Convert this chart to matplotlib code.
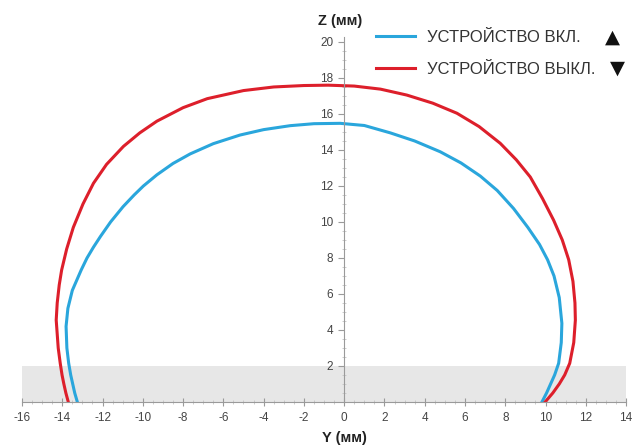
import matplotlib
matplotlib.use("Agg")
import matplotlib.pyplot as plt
from matplotlib.ticker import MultipleLocator

plt.rcParams['font.family'] = ['Liberation Sans', 'DejaVu Sans']

# Curve "device on" (blue): Y (mm), Z (mm)
on_y = [-13.25, -13.38, -13.48, -13.58, -13.68, -13.77, -13.81, -13.72, -13.5,
        -13.06, -12.77, -12.45, -12.1, -11.6, -10.98, -10.43, -9.97, -9.3,
        -8.5, -7.65, -6.5, -5.17, -4.0, -2.68, -1.5, -0.2,
        1.0, 2.29, 3.5, 4.77, 5.8, 6.76, 7.6, 8.41,
        9.12, 9.7, 10.1, 10.42, 10.68, 10.81, 10.78, 10.65, 10.45, 10.25, 10.05, 9.82]
on_z = [0.0, 0.5, 1.0, 1.5, 2.15, 3.0, 4.2, 5.2, 6.2,
        7.33, 8.0, 8.6, 9.2, 10.0, 10.85, 11.5, 12.0, 12.62,
        13.25, 13.78, 14.35, 14.83, 15.13, 15.35, 15.46, 15.48,
        15.36, 14.95, 14.5, 13.9, 13.28, 12.55, 11.75, 10.75,
        9.7, 8.75, 7.9, 7.0, 5.8, 4.37, 3.3, 2.15, 1.5, 1.0, 0.5, 0.0]

# Curve "device off" (red)
off_y = [-13.7, -13.82, -13.92, -14.01, -14.1, -14.2, -14.3, -14.25, -14.15,
         -14.03, -13.78, -13.45, -12.97, -12.45, -11.8, -10.96, -10.15, -9.3,
         -8.0, -6.8, -5.0, -3.5, -2.0, -0.8, 0.5, 1.8, 3.11, 4.4, 5.6, 6.7,
         7.75, 8.55, 9.24, 9.85, 10.4, 10.83, 11.15, 11.36, 11.46, 11.48,
         11.4, 11.2, 10.95, 10.68, 10.36, 9.98]
off_z = [0.0, 0.5, 1.0, 1.5, 2.15, 3.0, 4.55, 5.5, 6.5,
         7.33, 8.5, 9.7, 11.0, 12.15, 13.2, 14.2, 14.95, 15.6,
         16.35, 16.85, 17.3, 17.5, 17.58, 17.6, 17.55, 17.38, 17.05, 16.6, 16.04, 15.3,
         14.37, 13.45, 12.5, 11.3, 10.1, 9.0, 7.9, 6.7, 5.5, 4.55,
         3.3, 2.15, 1.5, 1.0, 0.5, 0.0]

labels = ["УСТРОЙСТВО ВКЛ.", "УСТРОЙСТВО ВЫКЛ."]
markers = ["▲", "▼"]
colors = ["#2aa6dc", "#dd1f2b"]

x_ticks = list(range(-16, 15, 2))
y_ticks = list(range(2, 21, 2))

fig = plt.figure(figsize=(6.35, 4.47), dpi=100)
ax = fig.add_axes([0.0346, 0.1007, 0.9514, 0.8175])
ax.set_xlim(-16, 14)
ax.set_ylim(0, 20.3)

ax.axhspan(0, 2, color="#e7e7e7", zorder=0, lw=0)

ax.plot(on_y, on_z, color=colors[0], lw=2.2, label=labels[0], solid_joinstyle='round')
ax.plot(off_y, off_z, color=colors[1], lw=2.2, label=labels[1], solid_joinstyle='round')

for s in ['top', 'right']:
    ax.spines[s].set_visible(False)
ax.spines['left'].set_position(('data', 0))
ax.spines['bottom'].set_position(('data', 0))
for s in ['left', 'bottom']:
    ax.spines[s].set_color('#9a9a9a')
    ax.spines[s].set_linewidth(0.8)

ax.set_xticks(x_ticks)
ax.set_xticklabels([str(t) for t in x_ticks])
ax.set_yticks(y_ticks)
ax.set_yticklabels([str(t) for t in y_ticks])
ax.xaxis.set_minor_locator(MultipleLocator(0.5))
ax.yaxis.set_minor_locator(MultipleLocator(0.5))
ax.tick_params(axis='both', which='major', direction='inout', length=6, width=0.8,
               color='#9a9a9a', labelsize=8.5, labelcolor='#444444', pad=4)
ax.tick_params(axis='both', which='minor', direction='inout', length=3, width=0.6,
               color='#c4c4c4')
ax.tick_params(axis='y', which='major', direction='out', length=4)

ax.text(-0.2, 20.8, "Z (мм)", ha='center', va='bottom', fontsize=10.5,
        fontweight='bold', color='#222222', clip_on=False)
fig.text(344 / 635, 1 - 438 / 447, "Y (мм)", ha='center', va='center', fontsize=10.5,
         fontweight='bold', color='#222222')

leg = ax.legend(loc='upper left', bbox_to_anchor=(376 / 635, 1 - 30 / 447),
                bbox_transform=fig.transFigure, frameon=False, fontsize=12,
                handlelength=2.35, handletextpad=0.7, labelspacing=1.0,
                borderpad=0, borderaxespad=0)
for t in leg.get_texts():
    t.set_color('#333333')

fig.text(612 / 635, 1 - 37 / 447, markers[0], ha='center', va='center',
         fontsize=14, color='#111111', family=['DejaVu Sans'])
fig.text(617 / 635, 1 - 68 / 447, markers[1], ha='center', va='center',
         fontsize=14, color='#111111', family=['DejaVu Sans'])

fig.savefig("out.png", dpi=100)
